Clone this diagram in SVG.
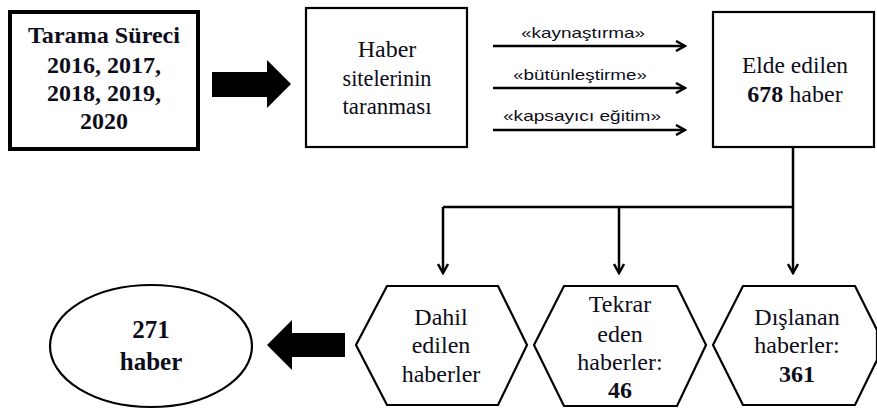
<svg xmlns="http://www.w3.org/2000/svg" width="877" height="409" viewBox="0 0 877 409">
<style>
.box{fill:#fff;stroke:#000;stroke-width:2.2}
.thick{fill:#fff;stroke:#000;stroke-width:4}
.t{font-family:"Liberation Serif","DejaVu Serif","Times New Roman",serif;font-size:24px;font-weight:normal;fill:#0d0d1a;text-anchor:middle}
.t.b,.b{font-weight:bold}
.lbl{font-family:"Liberation Sans",Arial,sans-serif;font-size:15px;fill:#0d0d1a;text-anchor:middle}
.ln{fill:none;stroke:#000;stroke-width:2.5}
.blk{fill:#000;stroke:none}
</style>
<defs>
<marker id="ah" viewBox="0 0 12 12" refX="10" refY="6" markerWidth="12" markerHeight="12" markerUnits="userSpaceOnUse" orient="auto">
<path d="M1,1 L10,6 L1,11" fill="none" stroke="#000" stroke-width="2.5"/>
</marker>
</defs>
<g id="tarama">
<rect class="thick" x="10" y="12" width="188" height="137"/>
<text class="t b" x="104" y="43" textLength="152" lengthAdjust="spacingAndGlyphs">Tarama Süreci</text>
<text class="t b" x="104" y="73">2016, 2017,</text>
<text class="t b" x="104" y="101">2018, 2019,</text>
<text class="t b" x="104" y="129">2020</text>
</g>
<g id="haber-siteleri">
<rect class="box" x="306" y="8" width="161" height="139"/>
<text class="t" x="387" y="57">Haber</text>
<text class="t" x="387" y="86" textLength="89" lengthAdjust="spacingAndGlyphs">sitelerinin</text>
<text class="t" x="387" y="114" textLength="89" lengthAdjust="spacingAndGlyphs">taranması</text>
</g>
<g id="elde-edilen">
<rect class="box" x="713" y="12" width="161" height="135"/>
<text class="t" x="795" y="73" textLength="106" lengthAdjust="spacingAndGlyphs">Elde  edilen</text>
<text class="t" x="795" y="102"><tspan class="b">678</tspan> haber</text>
</g>
<g id="dahil">
<polygon class="box" points="356,345 387,286 498,286 527,345 498,405 387,405"/>
<text class="t" x="441" y="325">Dahil</text>
<text class="t" x="441" y="353">edilen</text>
<text class="t" x="441" y="382">haberler</text>
</g>
<g id="tekrar">
<polygon class="box" points="534,345 564,286 677,286 706,345 677,406 564,406"/>
<text class="t" x="620" y="312">Tekrar</text>
<text class="t" x="620" y="342">eden</text>
<text class="t" x="620" y="370">haberler:</text>
<text class="t b" x="620" y="398">46</text>
</g>
<g id="dislanan">
<polygon class="box" points="713,345 743,286 855,286 877,330 877,360 855,405 743,405"/>
<text class="t" x="797" y="325">Dışlanan</text>
<text class="t" x="797" y="353">haberler:</text>
<text class="t b" x="797" y="382">361</text>
</g>
<g id="sonuc">
<ellipse class="box" cx="151" cy="346" rx="101" ry="61"/>
<text class="t b" x="151" y="338" style="font-size:25px">271</text>
<text class="t b" x="151" y="370" style="font-size:25px">haber</text>
</g>
<g id="connectors">
<polygon class="blk" points="212,72 267,72 267,60 291,84 267,108 267,97 212,97"/>
<polygon class="blk" points="345,333 292,333 292,320 267,345 292,370 292,357 345,357"/>
<line class="ln" x1="493" y1="46" x2="685" y2="46" marker-end="url(#ah)"/>
<line class="ln" x1="493" y1="88" x2="685" y2="88" marker-end="url(#ah)"/>
<line class="ln" x1="493" y1="130" x2="685" y2="130" marker-end="url(#ah)"/>
<text class="lbl" x="583" y="38" textLength="124" lengthAdjust="spacingAndGlyphs">«kaynaştırma»</text>
<text class="lbl" x="580" y="80" textLength="134" lengthAdjust="spacingAndGlyphs">«bütünleştirme»</text>
<text class="lbl" x="582" y="121" textLength="158" lengthAdjust="spacingAndGlyphs">«kapsayıcı eğitim»</text>
<polyline class="ln" points="793,147 793,207"/>
<line class="ln" x1="443" y1="207" x2="793" y2="207"/>
<line class="ln" x1="443" y1="207" x2="443" y2="273" marker-end="url(#ah)"/>
<line class="ln" x1="619" y1="207" x2="619" y2="273" marker-end="url(#ah)"/>
<line class="ln" x1="793" y1="207" x2="793" y2="273" marker-end="url(#ah)"/>
</g>
</svg>
